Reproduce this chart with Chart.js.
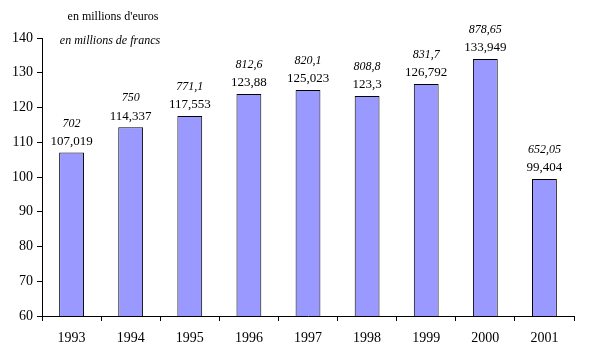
<!DOCTYPE html>
<html>
<head>
<meta charset="utf-8">
<script src="https://cdn.jsdelivr.net/npm/chart.js@4"></script>
<style>
html,body{margin:0;padding:0;background:#fff;}
#wrap{width:600px;height:356px;position:relative;}
</style>
</head>
<body>
<div id="wrap"><canvas id="c" width="600" height="356"></canvas></div>
<script>
const years = ["1993","1994","1995","1996","1997","1998","1999","2000","2001"];
const euros = [107.019,114.337,117.553,123.88,125.023,123.3,126.792,133.949,99.404];
const euroLabels = ["107,019","114,337","117,553","123,88","125,023","123,3","126,792","133,949","99,404"];
const francLabels = ["702","750","771,1","812,6","820,1","808,8","831,7","878,65","652,05"];
const yTicks = [60,70,80,90,100,110,120,130,140];

const FONT = "'Liberation Serif','Times New Roman',serif";

const labelPlugin = {
  id: 'labels',
  afterDatasetsDraw(chart) {
    const ctx = chart.ctx;
    const meta = chart.getDatasetMeta(0);
    ctx.save();
    ctx.fillStyle = '#000';
    ctx.textAlign = 'center';
    ctx.textBaseline = 'middle';
    meta.data.forEach((bar, i) => {
      const x = bar.x, y = bar.y;
      ctx.font = "13px " + FONT;
      ctx.fillText(euroLabels[i], x, y - 11);
      ctx.font = "italic 12px " + FONT;
      ctx.fillText(francLabels[i], x, y - 29);
    });
    ctx.font = "12px " + FONT;
    ctx.fillText("en millions d'euros", 113, 17);
    ctx.font = "italic 12px " + FONT;
    ctx.fillText("en millions de francs", 110, 41);
    ctx.restore();
  }
};

new Chart(document.getElementById('c'), {
  type: 'bar',
  data: {
    labels: years,
    datasets: [{
      data: euros,
      backgroundColor: '#9999FF',
      borderColor: '#000',
      borderWidth: 1,
      borderSkipped: 'bottom',
      barPercentage: 0.42,
      categoryPercentage: 1.0
    }]
  },
  options: {
    responsive: false,
    animation: false,
    devicePixelRatio: 1,
    layout: { padding: { top: 38, right: 26, left: 0, bottom: 0 } },
    plugins: { legend: { display: false }, tooltip: { enabled: false } },
    scales: {
      x: {
        offset: true,
        grid: { display: true, drawOnChartArea: false, offset: true, color: '#000', tickLength: 5, lineWidth: 1 },
        border: { display: true, color: '#000', width: 1 },
        ticks: { color: '#000', font: { family: FONT, size: 14 }, padding: 9, maxRotation: 0 },
        afterFit(s) { s.height = 40; }
      },
      y: {
        min: 60, max: 140,
        afterBuildTicks(s) { s.ticks = yTicks.map(v => ({ value: v })); },
        grid: { display: true, drawOnChartArea: false, color: '#000', tickLength: 5, lineWidth: 1 },
        border: { display: true, color: '#000', width: 1 },
        ticks: { color: '#000', font: { family: FONT, size: 14 }, padding: 4 },
        afterFit(s) { s.width = 42; }
      }
    }
  },
  plugins: [labelPlugin]
});
</script>
</body>
</html>
